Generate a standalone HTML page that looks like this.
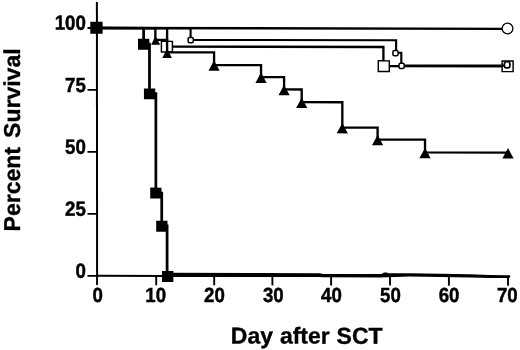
<!DOCTYPE html>
<html><head><meta charset="utf-8"><title>Survival</title>
<style>
html,body{margin:0;padding:0;background:#fff;}
body{width:520px;height:350px;overflow:hidden;}
svg{display:block;will-change:transform;filter:grayscale(1) blur(0.3px);}
text{font-family:"Liberation Sans",sans-serif;font-weight:bold;fill:#000;}
</style></head><body>
<svg width="520" height="350" viewBox="0 0 520 350">
<rect width="520" height="350" fill="#fff"/>
<g transform="matrix(1 0.00210 0 1 0 -0.5460)">

<g stroke="#000" stroke-width="2.0" fill="none" stroke-linecap="butt">
<path d="M96.90 2.3 L97.10 277.15"/>
<path d="M96.05 276.10 L170.00 276.15" stroke-width="2.0"/>
<path d="M87.50 28.35 L97.05 28.35" stroke-width="1.8"/>
<path d="M87.50 90.30 L97.05 90.30" stroke-width="1.8"/>
<path d="M87.50 152.25 L97.05 152.25" stroke-width="1.8"/>
<path d="M87.50 214.20 L97.05 214.20" stroke-width="1.8"/>
<path d="M87.50 276.15 L97.05 276.15" stroke-width="1.8"/>
<path d="M97.05 276.15 L97.05 285.35" stroke-width="1.9"/>
<path d="M156.20 276.15 L156.20 285.35" stroke-width="1.9"/>
<path d="M214.20 276.15 L214.20 285.35" stroke-width="1.9"/>
<path d="M272.40 276.15 L272.40 285.35" stroke-width="1.9"/>
<path d="M331.10 276.15 L331.10 285.35" stroke-width="1.9"/>
<path d="M390.00 276.15 L390.00 285.35" stroke-width="1.9"/>
<path d="M448.90 276.15 L448.90 285.35" stroke-width="1.9"/>
<path d="M508.00 276.15 L508.00 285.35" stroke-width="1.9"/>
</g>
<path d="M96.65 28.30 L167.10 28.30 L167.10 46.75 L383.40 46.75 L383.40 65.75 L507.62 65.75" stroke="#000" stroke-width="2.35" fill="none"/>
<rect x="161.40" y="41.55" width="11.00" height="10.70" fill="#fff" stroke="#000" stroke-width="1.45"/>
<rect x="378.30" y="60.60" width="11.00" height="10.70" fill="#fff" stroke="#000" stroke-width="1.45"/>
<rect x="502.12" y="60.40" width="11.00" height="10.70" fill="#fff" stroke="#000" stroke-width="1.45"/>
<path d="M96.65 28.30 L190.59 28.30 L190.59 40.00 L396.10 40.00 L396.10 52.50 L401.30 52.50 L401.30 65.15 L507.62 65.15" stroke="#000" stroke-width="2.15" fill="none"/>
<rect x="188.09" y="37.70" width="5.20" height="5.20" rx="1.5" fill="#fff" stroke="#000" stroke-width="1.5"/>
<rect x="392.90" y="50.30" width="5.20" height="5.20" rx="1.5" fill="#fff" stroke="#000" stroke-width="1.5"/>
<rect x="399.00" y="62.95" width="5.20" height="5.20" rx="1.5" fill="#fff" stroke="#000" stroke-width="1.5"/>
<rect x="504.40" y="61.25" width="5.5" height="6.1" rx="2.2" fill="#fff" stroke="#000" stroke-width="1.7"/>
<path d="M96.65 28.30 L155.36 28.30 L155.36 40.00 L167.10 40.00 L167.10 52.40 L214.07 52.40 L214.07 65.10 L261.04 65.10 L261.04 77.10 L284.07 77.10 L284.07 89.40 L301.69 89.40 L301.69 102.10 L342.33 102.10 L342.33 127.40 L377.61 127.40 L377.61 139.30 L425.03 139.30 L425.03 152.10 L507.62 152.10" stroke="#000" stroke-width="2.35" fill="none"/>
<path d="M155.4 36.1 L160.2 44.9 L151.2 44.9 Z" fill="#000"/>
<path d="M167.1 48.6 L171.9 58.3 L162.3 58.3 Z" fill="#000"/>
<path d="M214.07 60.60 L219.67 70.90 L208.47 70.90 Z" fill="#000"/>
<path d="M261.04 72.60 L266.64 82.90 L255.44 82.90 Z" fill="#000"/>
<path d="M284.07 84.90 L289.67 95.20 L278.47 95.20 Z" fill="#000"/>
<path d="M301.69 97.60 L307.29 107.90 L296.08 107.90 Z" fill="#000"/>
<path d="M342.33 122.90 L347.93 133.20 L336.73 133.20 Z" fill="#000"/>
<path d="M377.61 134.80 L383.21 145.10 L372.01 145.10 Z" fill="#000"/>
<path d="M425.03 147.60 L430.63 157.90 L419.43 157.90 Z" fill="#000"/>
<path d="M508.02 147.60 L513.62 157.90 L502.42 157.90 Z" fill="#000"/>
<path d="M143.62 28.30 L143.62 44.40 L149.49 44.40 L149.49 93.90 L155.87 93.90 L155.87 193.30 L161.73 193.30 L161.73 226.10 L167.10 226.10 L167.10 276.00" stroke="#000" stroke-width="2.75" fill="none"/>
<path d="M168.00 272.99 L320.00 273.07 L323.00 273.77 L381.50 273.74 L384.00 272.14 L386.50 272.33 L389.00 273.03 L410.00 272.99 L470.00 273.76 L490.00 274.42 L505.00 274.69 L510.20 274.77 L510.20 276.67 L509.00 277.48 L490.00 277.42 L470.00 276.96 L410.00 276.19 L380.00 277.15 L323.00 277.17 L318.00 276.78 L168.00 277.09 Z" fill="#000"/>
<rect x="90.30" y="22.20" width="12.30" height="11.80" fill="#000"/>
<rect x="137.97" y="39.05" width="11.30" height="10.90" fill="#000"/>
<rect x="143.94" y="88.65" width="11.30" height="10.90" fill="#000"/>
<rect x="150.22" y="187.85" width="11.30" height="10.90" fill="#000"/>
<rect x="156.18" y="220.95" width="11.30" height="10.90" fill="#000"/>
<rect x="162.05" y="271.25" width="11.30" height="10.90" fill="#000"/>
<path d="M96.65 28.30 L507.62 28.30" stroke="#000" stroke-width="2.35"/>
<circle cx="507.52" cy="28.00" r="5.35" fill="#fff" stroke="#000" stroke-width="1.25"/>
<text transform="translate(85.9 30.05) scale(0.912 1)" font-size="20.5" text-anchor="end" stroke="#000" stroke-width="0.45">100</text>
<text transform="translate(85.9 92.30) scale(0.912 1)" font-size="20.5" text-anchor="end" stroke="#000" stroke-width="0.45">75</text>
<text transform="translate(85.9 154.25) scale(0.912 1)" font-size="20.5" text-anchor="end" stroke="#000" stroke-width="0.45">50</text>
<text transform="translate(85.9 216.20) scale(0.912 1)" font-size="20.5" text-anchor="end" stroke="#000" stroke-width="0.45">25</text>
<text transform="translate(85.9 278.15) scale(0.912 1)" font-size="20.5" text-anchor="end" stroke="#000" stroke-width="0.45">0</text>
<text transform="translate(97.65 302.44) scale(0.912 1)" font-size="20.5" text-anchor="middle" stroke="#000" stroke-width="0.45">0</text>
<text transform="translate(155.72 302.32) scale(0.912 1)" font-size="20.5" text-anchor="middle" stroke="#000" stroke-width="0.45">10</text>
<text transform="translate(214.39 302.20) scale(0.912 1)" font-size="20.5" text-anchor="middle" stroke="#000" stroke-width="0.45">20</text>
<text transform="translate(273.36 302.07) scale(0.912 1)" font-size="20.5" text-anchor="middle" stroke="#000" stroke-width="0.45">30</text>
<text transform="translate(331.43 301.95) scale(0.912 1)" font-size="20.5" text-anchor="middle" stroke="#000" stroke-width="0.45">40</text>
<text transform="translate(390.50 301.83) scale(0.912 1)" font-size="20.5" text-anchor="middle" stroke="#000" stroke-width="0.45">50</text>
<text transform="translate(449.07 301.70) scale(0.912 1)" font-size="20.5" text-anchor="middle" stroke="#000" stroke-width="0.45">60</text>
<text transform="translate(507.34 301.58) scale(0.912 1)" font-size="20.5" text-anchor="middle" stroke="#000" stroke-width="0.45">70</text>
<text x="230.8" y="343.5" font-size="23" word-spacing="0.5" stroke="#000" stroke-width="0.35">Day after SCT</text>
<text transform="translate(19.5 231.9) rotate(-90)" font-size="23" word-spacing="2.7" stroke="#000" stroke-width="0.35">Percent Survival</text>
</g></svg></body></html>
